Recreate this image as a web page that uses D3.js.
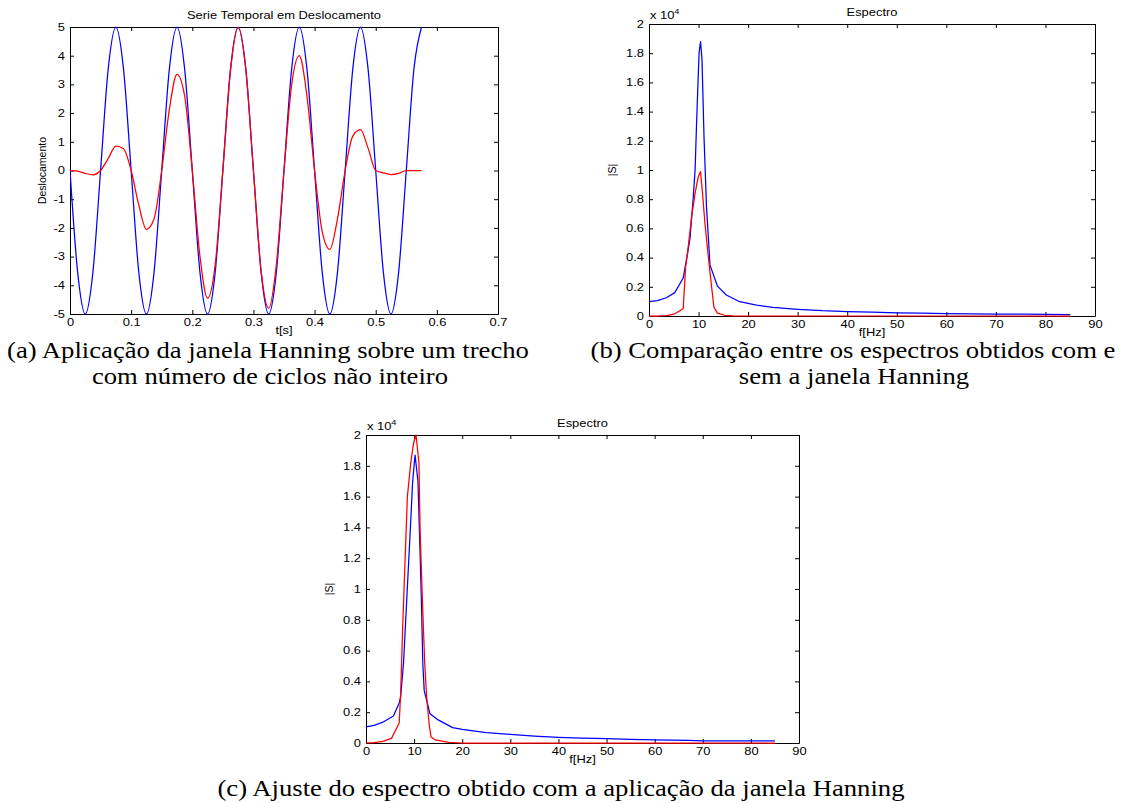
<!DOCTYPE html>
<html>
<head>
<meta charset="utf-8">
<script src="https://cdn.jsdelivr.net/npm/d3@7"></script>
<style>
  html, body { margin: 0; padding: 0; background: #ffffff; }
  svg { display: block; }
  .plot text { font-family: "Liberation Sans", Arial, sans-serif; fill: #000; }
  .caption { font-family: "Liberation Serif", "Times New Roman", serif; fill: #000; }
</style>
</head>
<body>
<svg id="fig" width="1122" height="803"></svg>
<script>
// ---- (a) time series: displacement [t in s] ----
const timeA = [0, 0.0125, 0.025, 0.0375, 0.05, 0.0625, 0.075, 0.0875, 0.1, 0.1125,
  0.125, 0.1375, 0.15, 0.1625, 0.175, 0.1875, 0.2, 0.2125, 0.225, 0.2375,
  0.25, 0.2625, 0.275, 0.2875, 0.3, 0.3125, 0.325, 0.3375, 0.35, 0.3625,
  0.375, 0.3875, 0.4, 0.4125, 0.425, 0.4375, 0.45, 0.4625, 0.475, 0.4875,
  0.5, 0.5125, 0.525, 0.5375, 0.55, 0.5625, 0.575];
// raw signal (truncated, non-integer number of cycles)
const signalRaw = [0, -3.54, -5, -3.54, 0, 3.54, 5, 3.54, 0, -3.54,
  -5, -3.54, 0, 3.54, 5, 3.54, 0, -3.54, -5, -3.54,
  0, 3.54, 5, 3.54, 0, -3.54, -5, -3.54, 0, 3.54,
  5, 3.54, 0, -3.54, -5, -3.54, 0, 3.54, 5, 3.54,
  0, -3.54, -5, -3.54, 0, 3.54, 5];
// same signal after the Hanning window
const signalHann = [0, -0.02, -0.1, -0.15, 0, 0.42, 0.85, 0.76, 0, -1.2,
  -2.05, -1.68, 0, 2.13, 3.35, 2.6, 0, -2.98, -4.45, -3.28,
  0, 3.47, 4.98, 3.54, 0, -3.47, -4.8, -3.28, 0, 2.98,
  4.0, 2.6, 0, -2.13, -2.75, -1.68, 0, 1.2, 1.42, 0.78,
  0, -0.08, -0.14, -0.1, 0, 0, 0];
const ticksA_x = [0, 0.1, 0.2, 0.3, 0.4, 0.5, 0.6, 0.7];
const ticksA_y = [-5, -4, -3, -2, -1, 0, 1, 2, 3, 4, 5];

// ---- (b) spectra, |S| in units of 1e4 ----
const freqB_raw = [0, 1.7, 3.5, 5.2, 6.9, 7.8, 8.3, 8.9, 9.3, 9.6, 10.1, 10.4, 10.7, 11.1,
  11.6, 12.1, 12.3, 13.8, 15.6, 18.3, 21.7, 25, 30, 35, 40, 45, 50, 55, 60, 65, 70, 75, 80, 85];
const specB_raw = [0.098, 0.105, 0.125, 0.16, 0.26, 0.43, 0.54, 0.8, 1.0, 1.32, 1.8, 1.88, 1.75, 1.23,
  0.75, 0.47, 0.35, 0.205, 0.144, 0.098, 0.075, 0.059, 0.046, 0.036, 0.03, 0.026, 0.022, 0.019,
  0.017, 0.015, 0.013, 0.012, 0.011, 0.01];
const freqB_hann = [0, 1.7, 3.5, 5.2, 6.9, 7.4, 7.9, 8.6, 9.3, 9.9, 10.4, 10.8, 11.3, 11.9,
  12.4, 13.1, 13.8, 15.3, 17, 20, 85];
const specB_hann = [0, 0, 0.002, 0.015, 0.05, 0.34, 0.47, 0.68, 0.84, 0.95, 0.99, 0.84, 0.63, 0.43,
  0.27, 0.06, 0.02, 0.005, 0.001, 0, 0];

// ---- (c) raw spectrum against the corrected Hanning spectrum ----
const freqC_raw = [0, 1.7, 3.5, 5.7, 6.9, 7.2, 7.8, 8.5, 9.2, 9.7, 10.2, 10.8, 11.1, 11.5, 11.8,
  12.1, 13.3, 15, 18, 20, 25, 30, 35, 40, 45, 50, 55, 60, 67, 70, 85];
const specC_raw = [0.105, 0.115, 0.135, 0.175, 0.26, 0.3, 0.52, 0.95, 1.38, 1.7, 1.87, 1.7, 1.38, 0.95, 0.52,
  0.34, 0.19, 0.15, 0.1, 0.088, 0.068, 0.056, 0.045, 0.037, 0.032, 0.028, 0.024, 0.02, 0.017, 0.014, 0.013];
const freqC_hann = [0, 1.7, 3.5, 5.3, 6.9, 7.2, 7.6, 8.1, 8.6, 9.3, 9.9, 10.4, 11, 11.25, 11.7,
  12.2, 12.6, 13.1, 13.5, 14.4, 17.2, 20, 85];
const specC_hann = [0, 0.002, 0.01, 0.03, 0.13, 0.32, 0.73, 1.17, 1.6, 1.82, 1.95, 2.0, 1.82, 1.38, 0.95,
  0.52, 0.3, 0.13, 0.04, 0.02, 0.004, 0, 0];

const ticksS_x = [0, 10, 20, 30, 40, 50, 60, 70, 80, 90];
const ticksS_y = [0, 0.2, 0.4, 0.6, 0.8, 1, 1.2, 1.4, 1.6, 1.8, 2];

const BLUE = "#0000ff", RED = "#ff0000";
const FONT_PX = 10.5;      // plot text size
const WIDEN = 1.23;        // horizontal glyph widening of the plot text
const CAPTION_PX = 23;     // caption text size
const CAPTION_WIDEN = 1.16;

const svg = d3.select("#fig");
svg.append("rect").attr("width", 1122).attr("height", 803).attr("fill", "#ffffff");

// widen glyphs horizontally while keeping each text's anchor point in place
function widen(sel, k = WIDEN) {
  sel.each(function () {
    const t = d3.select(this);
    const x = +(t.attr("x") || 0);
    t.attr("x", x / k).attr("transform", `scale(${k},1)`);
  });
}

// One MATLAB-style axes box with inward ticks on all four sides.
function drawAxes(cfg) {
  const g = svg.append("g").attr("class", "plot");
  const x = d3.scaleLinear().domain(cfg.xDomain).range([cfg.left, cfg.right]);
  const y = d3.scaleLinear().domain(cfg.yDomain).range([cfg.bottom, cfg.top]);
  const clipId = "clip" + Math.round(cfg.left) + "_" + Math.round(cfg.top);
  g.append("clipPath").attr("id", clipId).append("rect")
    .attr("x", cfg.left).attr("y", cfg.top - 1)
    .attr("width", cfg.right - cfg.left).attr("height", cfg.bottom - cfg.top + 2);

  g.append("rect").attr("x", cfg.left).attr("y", cfg.top)
    .attr("width", cfg.right - cfg.left).attr("height", cfg.bottom - cfg.top)
    .attr("fill", "#ffffff");

  const fs = FONT_PX;
  const styleAxis = (sel, labels) => {
    sel.selectAll("path.domain").attr("stroke", "#000").attr("stroke-width", 1);
    sel.selectAll(".tick line").attr("stroke", "#000").attr("stroke-width", 1);
    sel.selectAll(".tick text").style("font-size", fs + "px")
      .style("font-family", '"Liberation Sans", Arial, sans-serif');
    if (!labels) sel.selectAll(".tick text").remove();
    else widen(sel.selectAll(".tick text"));
  };
  const fmt = d => String(d);
  g.append("g").attr("transform", `translate(0,${cfg.bottom})`)
    .call(d3.axisBottom(x).tickValues(cfg.xTicks).tickSize(-4).tickSizeOuter(0).tickPadding(5).tickFormat(fmt))
    .call(s => styleAxis(s, true));
  g.append("g").attr("transform", `translate(0,${cfg.top})`)
    .call(d3.axisTop(x).tickValues(cfg.xTicks).tickSize(-4).tickSizeOuter(0))
    .call(s => styleAxis(s, false));
  g.append("g").attr("transform", `translate(${cfg.left},0)`)
    .call(d3.axisLeft(y).tickValues(cfg.yTicks).tickSize(-4).tickSizeOuter(0).tickPadding(5).tickFormat(fmt))
    .call(s => styleAxis(s, true));
  g.append("g").attr("transform", `translate(${cfg.right},0)`)
    .call(d3.axisRight(y).tickValues(cfg.yTicks).tickSize(-4).tickSizeOuter(0))
    .call(s => styleAxis(s, false));

  // data lines, drawn over the box
  const lines = g.append("g").attr("clip-path", `url(#${clipId})`);
  cfg.series.forEach(s => {
    const pts = s.x.map((v, i) => [v, s.y[i]]);
    lines.append("path")
      .attr("d", d3.line().x(d => x(d[0])).y(d => y(d[1])).curve(s.curve || d3.curveLinear)(pts))
      .attr("fill", "none").attr("stroke", s.color).attr("stroke-width", 1.25)
      .attr("stroke-linejoin", "round");
  });

  const midX = (cfg.left + cfg.right) / 2;
  const title = g.append("text").attr("x", midX).attr("y", cfg.top - 8)
    .attr("text-anchor", "middle").style("font-size", fs + "px").text(cfg.title);
  const xl = g.append("text").attr("x", midX).attr("y", cfg.bottom + 20)
    .attr("text-anchor", "middle").style("font-size", fs + "px").text(cfg.xLabel);
  widen(title); widen(xl);
  g.append("text")
    .attr("transform", `translate(${cfg.yLabelX},${(cfg.top + cfg.bottom) / 2}) rotate(-90)`)
    .attr("text-anchor", "middle").style("font-size", fs + "px").text(cfg.yLabel);

  if (cfg.exponent) {
    const t = g.append("text").attr("x", cfg.left + 1).attr("y", cfg.top - 5)
      .style("font-size", fs + "px");
    t.append("tspan").text("x 10");
    t.append("tspan").attr("dy", -5).style("font-size", (fs - 3) + "px").text(cfg.exponent);
    widen(t);
  }
  return g;
}

drawAxes({
  left: 70, right: 498, top: 27, bottom: 314,
  xDomain: [0, 0.7], yDomain: [-5, 5], xTicks: ticksA_x, yTicks: ticksA_y,
  title: "Serie Temporal em Deslocamento", xLabel: "t[s]", yLabel: "Deslocamento", yLabelX: 46,
  series: [
    { x: timeA, y: signalRaw, color: BLUE, curve: d3.curveMonotoneX },
    { x: timeA, y: signalHann, color: RED, curve: d3.curveMonotoneX }
  ]
});

drawAxes({
  left: 649, right: 1095, top: 24, bottom: 316,
  xDomain: [0, 90], yDomain: [0, 2], xTicks: ticksS_x, yTicks: ticksS_y,
  exponent: "4",
  title: "Espectro", xLabel: "f[Hz]", yLabel: "|S|", yLabelX: 616,
  series: [
    { x: freqB_raw, y: specB_raw, color: BLUE },
    { x: freqB_hann, y: specB_hann, color: RED }
  ]
});

drawAxes({
  left: 366, right: 799, top: 435, bottom: 743,
  xDomain: [0, 90], yDomain: [0, 2], xTicks: ticksS_x, yTicks: ticksS_y,
  exponent: "4",
  title: "Espectro", xLabel: "f[Hz]", yLabel: "|S|", yLabelX: 333,
  series: [
    { x: freqC_raw, y: specC_raw, color: BLUE },
    { x: freqC_hann, y: specC_hann, color: RED }
  ]
});

// figure captions, centred under their panels
const captions = [
  { text: "(a) Aplicação da janela Hanning sobre um trecho", cx: 268, y: 358 },
  { text: "com número de ciclos não inteiro", cx: 270, y: 384 },
  { text: "(b) Comparação entre os espectros obtidos com e", cx: 853, y: 358 },
  { text: "sem a janela Hanning", cx: 854, y: 384 },
  { text: "(c) Ajuste do espectro obtido com a aplicação da janela Hanning", cx: 561, y: 796 }
];
const capSel = svg.selectAll("text.caption").data(captions).join("text")
  .attr("class", "caption")
  .attr("x", d => d.cx).attr("y", d => d.y)
  .attr("text-anchor", "middle")
  .style("font-size", CAPTION_PX + "px")
  .text(d => d.text);
widen(capSel, CAPTION_WIDEN);
</script>
</body>
</html>
